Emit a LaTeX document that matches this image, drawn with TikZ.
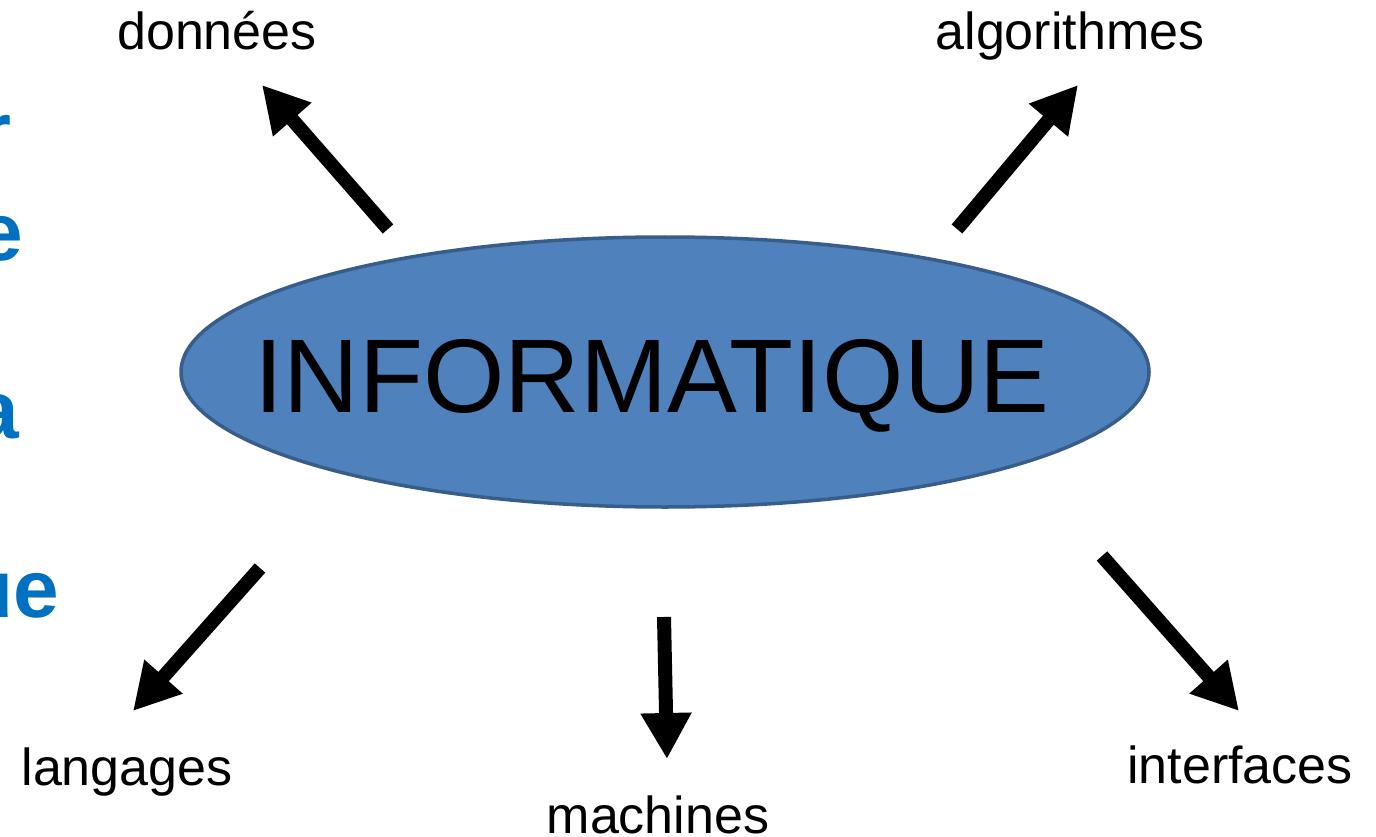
\documentclass[tikz,border=0pt]{standalone}
\usepackage{fontspec}
\setmainfont{Liberation Sans}
\usetikzlibrary{arrows.meta,shapes.geometric}
\definecolor{ellfill}{HTML}{4F81BD}
\definecolor{elldraw}{HTML}{385D8A}
\definecolor{slideblue}{HTML}{0070C0}
\tikzset{
  lbl/.style={inner sep=0pt,anchor=base,font=\fontsize{52}{60}\selectfont},
  frag/.style={inner sep=0pt,anchor=base east,text=slideblue,font=\fontsize{82}{90}\selectfont\bfseries},
  bigarrow/.style={line width=14pt,-{Triangle[width=48pt,length=46pt]}},
}
\begin{document}
\begin{tikzpicture}[x=1pt,y=-1pt]
\useasboundingbox (0,0) rectangle (1376,837);
\clip (0,0) rectangle (1376,837);
% left blue fragments
\node[frag] (f1) at (12,160) {r};
\node[frag] (f2) at (23,260) {e};
\node[frag] (f3) at (19,438) {a};
\node[frag] (f4) at (59,617) {ue};
% central ellipse
\node[ellipse,draw=elldraw,line width=3.5pt,fill=ellfill,minimum width=968pt,minimum height=270pt,inner sep=0pt] (ell) at (665,372) {};
\node[inner sep=0pt,anchor=base,font=\fontsize{104.7}{120}\selectfont] (title) at (652,412) {INFORMATIQUE};
% labels
\node[lbl] (donnees) at (217,50) {données};
\node[lbl] (algo) at (1070,50) {algorithmes};
\node[lbl] (lang) at (127,785) {langages};
\node[lbl] (mach) at (658,833) {machines};
\node[lbl] (inter) at (1240,783) {interfaces};
% arrow ends
\coordinate (s1) at (388,229);
\coordinate (e1) at (262,85);
\coordinate (s2) at (957,229);
\coordinate (e2) at (1078,85);
\coordinate (s3) at (260,568);
\coordinate (e3) at (133,711);
\coordinate (s4) at (664,617);
\coordinate (e4) at (667,759);
\coordinate (s5) at (1102,556);
\coordinate (e5) at (1239,711);
\draw[bigarrow] (s1) -- (e1);
\draw[bigarrow] (s2) -- (e2);
\draw[bigarrow] (s3) -- (e3);
\draw[bigarrow] (s4) -- (e4);
\draw[bigarrow] (s5) -- (e5);
\end{tikzpicture}
\end{document}
